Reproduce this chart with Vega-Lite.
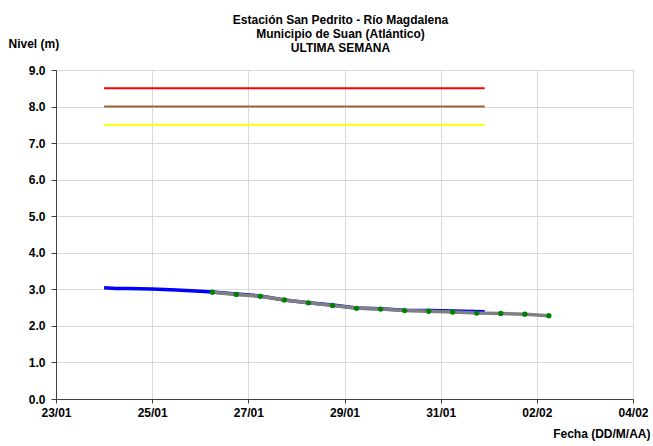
{
  "$schema": "https://vega.github.io/schema/vega-lite/v6.json",
  "width": 577,
  "height": 329,
  "autosize": {"type": "none"},
  "padding": {"left": 56, "top": 70, "right": 20, "bottom": 47},
  "background": "white",
  "config": {
    "font": "Liberation Sans",
    "view": {"stroke": "#b3b3b3", "strokeWidth": 1},
    "title": {"font": "Liberation Sans", "fontSize": 12, "fontWeight": "bold", "color": "#000000", "lineHeight": 14}
  },
  "title": {
    "text": ["Estación San Pedrito - Río Magdalena", "Municipio de Suan (Atlántico)", "ULTIMA SEMANA"],
    "anchor": "middle",
    "frame": "group",
    "offset": 17,
    "dx": -4,
    "dy": 35
  },
  "datasets": {
    "umbrales": [
      {"fecha": "2011-01-24T00:00:00Z", "nivel": 8.5, "serie": "roja"},
      {"fecha": "2011-01-31T22:00:00Z", "nivel": 8.5, "serie": "roja"},
      {"fecha": "2011-01-24T00:00:00Z", "nivel": 8.0, "serie": "naranja"},
      {"fecha": "2011-01-31T22:00:00Z", "nivel": 8.0, "serie": "naranja"},
      {"fecha": "2011-01-24T00:00:00Z", "nivel": 7.5, "serie": "amarilla"},
      {"fecha": "2011-01-31T22:00:00Z", "nivel": 7.5, "serie": "amarilla"}
    ],
    "automatica": [
      {"fecha": "2011-01-24T00:00:00Z", "nivel": 3.04},
      {"fecha": "2011-01-24T06:00:00Z", "nivel": 3.02},
      {"fecha": "2011-01-24T12:00:00Z", "nivel": 3.02},
      {"fecha": "2011-01-25T00:00:00Z", "nivel": 3.01},
      {"fecha": "2011-01-25T12:00:00Z", "nivel": 2.98},
      {"fecha": "2011-01-26T00:00:00Z", "nivel": 2.95},
      {"fecha": "2011-01-26T06:00:00Z", "nivel": 2.93},
      {"fecha": "2011-01-26T18:00:00Z", "nivel": 2.87},
      {"fecha": "2011-01-27T06:00:00Z", "nivel": 2.82},
      {"fecha": "2011-01-27T18:00:00Z", "nivel": 2.71},
      {"fecha": "2011-01-28T06:00:00Z", "nivel": 2.63},
      {"fecha": "2011-01-28T18:00:00Z", "nivel": 2.57},
      {"fecha": "2011-01-29T06:00:00Z", "nivel": 2.49},
      {"fecha": "2011-01-29T18:00:00Z", "nivel": 2.47},
      {"fecha": "2011-01-30T06:00:00Z", "nivel": 2.43},
      {"fecha": "2011-01-30T18:00:00Z", "nivel": 2.42},
      {"fecha": "2011-01-31T06:00:00Z", "nivel": 2.41},
      {"fecha": "2011-01-31T22:00:00Z", "nivel": 2.39}
    ],
    "convencional": [
      {"fecha": "2011-01-26T06:00:00Z", "nivel": 2.92},
      {"fecha": "2011-01-26T18:00:00Z", "nivel": 2.86},
      {"fecha": "2011-01-27T06:00:00Z", "nivel": 2.81},
      {"fecha": "2011-01-27T18:00:00Z", "nivel": 2.71},
      {"fecha": "2011-01-28T06:00:00Z", "nivel": 2.63},
      {"fecha": "2011-01-28T18:00:00Z", "nivel": 2.56},
      {"fecha": "2011-01-29T06:00:00Z", "nivel": 2.48},
      {"fecha": "2011-01-29T18:00:00Z", "nivel": 2.46},
      {"fecha": "2011-01-30T06:00:00Z", "nivel": 2.42},
      {"fecha": "2011-01-30T18:00:00Z", "nivel": 2.40},
      {"fecha": "2011-01-31T06:00:00Z", "nivel": 2.38},
      {"fecha": "2011-01-31T18:00:00Z", "nivel": 2.35},
      {"fecha": "2011-02-01T06:00:00Z", "nivel": 2.34},
      {"fecha": "2011-02-01T18:00:00Z", "nivel": 2.32},
      {"fecha": "2011-02-02T06:00:00Z", "nivel": 2.28}
    ]
  },
  "encoding": {
    "x": {
      "field": "fecha",
      "type": "temporal",
      "scale": {
        "type": "utc",
        "domain": [
          {"year": 2011, "month": 1, "date": 23, "utc": true},
          {"year": 2011, "month": 2, "date": 4, "utc": true}
        ]
      },
      "axis": {
        "values": [
          {"year": 2011, "month": 1, "date": 23, "utc": true},
          {"year": 2011, "month": 1, "date": 25, "utc": true},
          {"year": 2011, "month": 1, "date": 27, "utc": true},
          {"year": 2011, "month": 1, "date": 29, "utc": true},
          {"year": 2011, "month": 1, "date": 31, "utc": true},
          {"year": 2011, "month": 2, "date": 2, "utc": true},
          {"year": 2011, "month": 2, "date": 4, "utc": true}
        ],
        "format": "%d/%m",
        "labelFlush": false,
        "labelOverlap": false,
        "grid": true,
        "gridColor": "#d9d9d9",
        "gridWidth": 1,
        "domainColor": "#404040",
        "domainWidth": 1,
        "tickColor": "#404040",
        "tickSize": 4,
        "labelPadding": 4,
        "labelFont": "Liberation Sans",
        "labelFontSize": 12,
        "labelFontWeight": "bold",
        "labelColor": "#000000",
        "title": "Fecha (DD/M/AA)",
        "titleFont": "Liberation Sans",
        "titleFontSize": 12,
        "titleFontWeight": "bold",
        "titleColor": "#000000",
        "titleAnchor": null,
        "titleX": 594,
        "titleY": 34,
        "titleAlign": "right",
        "titleBaseline": "middle"
      }
    },
    "y": {
      "field": "nivel",
      "type": "quantitative",
      "scale": {"domain": [0, 9], "nice": false, "zero": true},
      "axis": {
        "values": [0, 1, 2, 3, 4, 5, 6, 7, 8, 9],
        "format": ".1f",
        "grid": true,
        "gridColor": "#d9d9d9",
        "gridWidth": 1,
        "domainColor": "#404040",
        "domainWidth": 1,
        "tickColor": "#404040",
        "tickSize": 5,
        "labelPadding": 6,
        "labelFont": "Liberation Sans",
        "labelFontSize": 12,
        "labelFontWeight": "bold",
        "labelColor": "#000000",
        "title": "Nivel (m)",
        "titleFont": "Liberation Sans",
        "titleFontSize": 12,
        "titleFontWeight": "bold",
        "titleColor": "#000000",
        "titleAngle": 0,
        "titleAnchor": null,
        "titleX": -48,
        "titleY": -27,
        "titleAlign": "left",
        "titleBaseline": "middle"
      }
    }
  },
  "layer": [
    {
      "data": {"name": "umbrales"},
      "mark": {"type": "line", "strokeWidth": 2},
      "encoding": {
        "color": {
          "field": "serie",
          "type": "nominal",
          "scale": {"domain": ["roja", "naranja", "amarilla"], "range": ["#FF0000", "#996633", "#FFFF00"]},
          "legend": null
        }
      }
    },
    {
      "data": {"name": "automatica"},
      "mark": {"type": "line", "color": "#0000FF", "strokeWidth": 3.5}
    },
    {
      "data": {"name": "convencional"},
      "mark": {"type": "line", "color": "#808080", "strokeWidth": 3.5}
    },
    {
      "data": {"name": "convencional"},
      "mark": {"type": "point", "filled": true, "color": "#008000", "size": 28, "opacity": 1}
    }
  ]
}
